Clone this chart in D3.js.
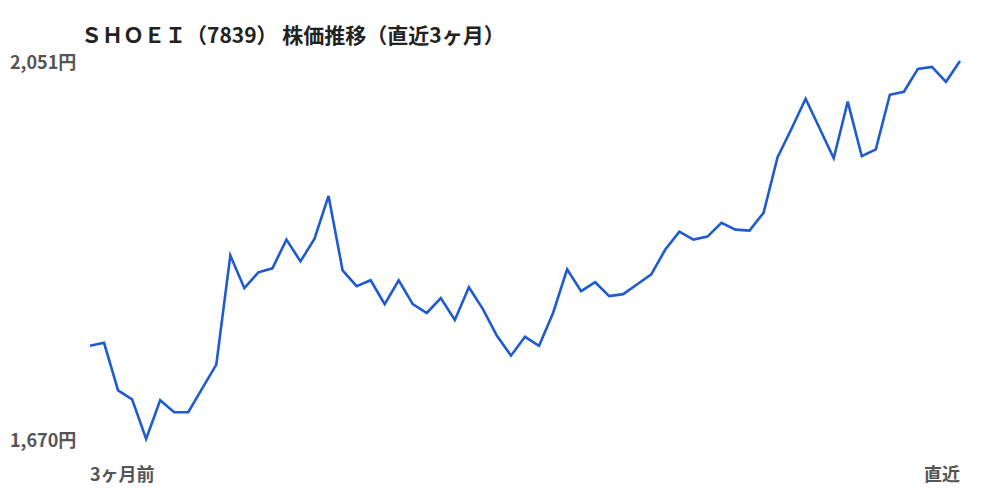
<!DOCTYPE html>
<html>
<head>
<meta charset="utf-8">
<script src="https://cdn.jsdelivr.net/npm/d3@7"></script>
<style>
  html, body { margin: 0; padding: 0; background: #fff; }
  svg { display: block; font-family: "Noto Sans CJK JP", "Noto Sans", sans-serif; }
</style>
</head>
<body>
<div id="chart"></div>
<script>
// 株価データ（直近3ヶ月、日次終値・円）
const prices = [
  1764, 1767, 1719, 1710, 1670, 1709, 1697, 1697, 1721, 1745,
  1855, 1822, 1838, 1842, 1871, 1849, 1872, 1915, 1840, 1824,
  1830, 1806, 1830, 1806, 1797, 1812, 1790, 1823, 1801, 1774,
  1754, 1773, 1764, 1797, 1841, 1819, 1828, 1814, 1816, 1826,
  1836, 1861, 1879, 1871, 1874, 1888, 1881, 1880, 1898, 1954,
  1983, 2013, 1983, 1953, 2010, 1955, 1962, 2017, 2020, 2043,
  2045, 2030, 2051
];
const yTicks = [2051, 1670];
const xLabels = ["3ヶ月前", "直近"];
const title = "ＳＨＯＥＩ（7839） 株価推移（直近3ヶ月）";

const width = 1000, height = 500;

const svg = d3.select("#chart").append("svg")
    .attr("width", width)
    .attr("height", height)
    .attr("viewBox", `0 0 ${width} ${height}`);

const x = d3.scaleLinear()
    .domain([0, prices.length - 1])
    .range([90, 960]);

const y = d3.scaleLinear()
    .domain([d3.min(prices), d3.max(prices)])
    .range([439, 61]);

// タイトル
svg.append("text")
    .attr("x", 81)
    .attr("y", 43)
    .attr("font-size", 21)
    .attr("font-weight", "bold")
    .attr("fill", "#222")
    .text(title);

// Y軸ラベル（最高値・最安値）
svg.selectAll("text.y-label")
    .data(yTicks)
    .enter().append("text")
    .attr("class", "y-label")
    .attr("x", 10)
    .attr("y", d => y(d) + 8)
    .attr("font-size", 18)
    .attr("font-weight", "bold")
    .attr("fill", "#555")
    .text(d => d3.format(",")(d) + "円");

// X軸ラベル
svg.selectAll("text.x-label")
    .data(xLabels)
    .enter().append("text")
    .attr("class", "x-label")
    .attr("x", (d, i) => i === 0 ? x(0) : x(prices.length - 1))
    .attr("y", 481)
    .attr("text-anchor", (d, i) => i === 0 ? "start" : "end")
    .attr("font-size", 18)
    .attr("font-weight", "bold")
    .attr("fill", "#555")
    .text(d => d);

// 株価ライン
const line = d3.line()
    .x((d, i) => x(i))
    .y(d => y(d));

svg.append("path")
    .datum(prices)
    .attr("fill", "none")
    .attr("stroke", "#1f5bd0")
    .attr("stroke-width", 2.6)
    .attr("stroke-linejoin", "miter")
    .attr("d", line);
</script>
</body>
</html>
